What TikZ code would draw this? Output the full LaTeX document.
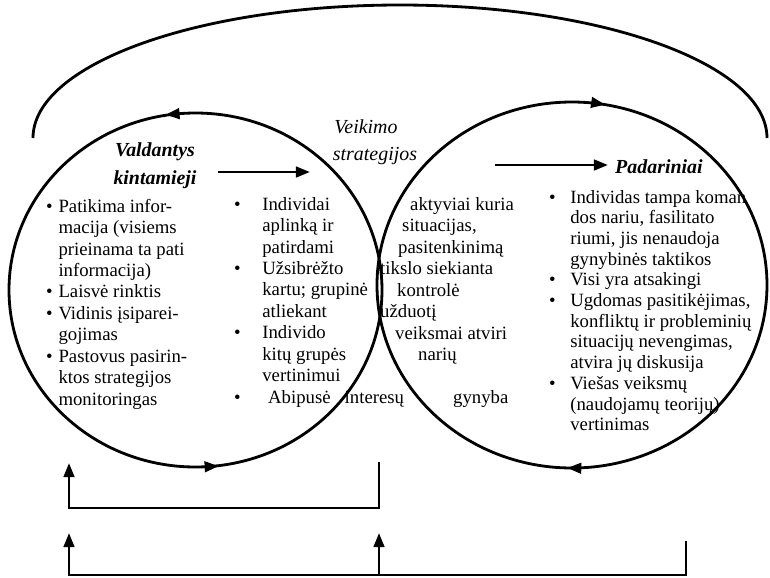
\documentclass[tikz,border=0pt]{standalone}
\usepackage{fontspec}
\setmainfont{Liberation Serif}
\usetikzlibrary{arrows.meta,decorations.markings}

\tikzset{
  linija/.style={line width=2.4pt},
  galva/.tip={Triangle[length=12pt,width=9pt]},
  rodykle/.style={line width=2.4pt,-galva},
  antraste/.style={font=\fontsize{17}{20}\selectfont\bfseries\itshape,inner sep=0pt},
  pokrypis/.style={font=\fontsize{17}{20}\selectfont\itshape,inner sep=0pt},
  sarasas/.style={font=\fontsize{16}{18.35}\selectfont,inner sep=0pt,anchor=base west},
  eilute/.style={font=\fontsize{16}{18.35}\selectfont,inner sep=0pt,anchor=base west},
}

\begin{document}
\begin{tikzpicture}[x=0.03cm,y=-0.03cm]
    \useasboundingbox (0,0) rectangle (770,577);
    % didysis lankas virsuje
    \coordinate (lankas) at (33,138);
    \draw[linija] (lankas) arc[start angle=180,end angle=360,x radius=367,y radius=133];
    % du apskritimai
    \draw[linija,postaction=decorate,decoration={markings,
        mark=at position 0.242 with {\arrow{Triangle[reversed,length=12pt,width=9pt]}},
        mark=at position 0.736 with {\arrow{Triangle[reversed,length=12pt,width=9pt]}}}]
        (195.5,290) ellipse [x radius=186.5,y radius=177];
    \draw[linija,postaction=decorate,decoration={markings,
        mark=at position 0.254 with {\arrow{galva}},
        mark=at position 0.778 with {\arrow{galva}}}]
        (572,285) ellipse [x radius=195,y radius=183];
    % antrastes
    \node[antraste] (valdantys) at (155,152) {Valdantys};
    \node[antraste] (kintamieji) at (155,180) {kintamieji};
    \node[pokrypis] (veikimo) at (366,127) {Veikimo};
    \node[pokrypis] (strategijos) at (375,156) {strategijos};
    \node[antraste,anchor=west] (padariniai) at (615,167) {Padariniai};
    % rodykles tarp antrasciu
    \coordinate (r1a) at (218,172);
    \coordinate (r1b) at (310,172);
    \draw[rodykle] (r1a) -- (r1b);
    \coordinate (r2a) at (495,165);
    \coordinate (r2b) at (608,165);
    \draw[rodykle] (r2a) -- (r2b);
    % kairys sarasas
    \node[sarasas] (kairys) at (46,212) {\begin{tabular}[t]{@{}p{10.5pt}@{}l@{}}
      \textbullet & Patikima infor-\\
      & macija (visiems\\
      & prieinama ta pati\\
      & informacija)\\
      \textbullet & Laisvė rinktis\\
      \textbullet & Vidinis įsiparei-\\
      & gojimas\\
      \textbullet & Pastovus pasirin-\\
      & ktos strategijos\\
      & monitoringas
    \end{tabular}};
    % vidurinis sarasas
    \node[sarasas] (vidurys) at (234,210) {\begin{tabular}[t]{@{}p{24pt}@{}l@{}}
      \textbullet & Individai\\
      & aplinką ir\\
      & patirdami\\
      \textbullet & Užsibrėžto\\
      & kartu; grupinė\\
      & atliekant\\
      \textbullet & Individo\\
      & kitų grupės\\
      & vertinimui\\
      \textbullet & \hspace{5pt}Abipusė\hspace{12pt}interesų
    \end{tabular}};
    % vidurinio saraso tesinys
    \node[eilute] (e1) at (410,210) {aktyviai kuria};
    \node[eilute] (e2) at (402,231.5) {situacijas,};
    \node[eilute] (e3) at (398,253) {pasitenkinimą};
    \node[eilute] (e4) at (380,274.5) {tikslo siekianta};
    \node[eilute] (e5) at (397,296) {kontrolė};
    \node[eilute] (e6) at (380,317.5) {užduotį};
    \node[eilute] (e7) at (395,339) {veiksmai atviri};
    \node[eilute] (e8) at (418,360.5) {narių};
    \node[eilute] (e9) at (453,403.5) {gynyba};
    % desinys sarasas
    \node[sarasas,font=\fontsize{16}{17.67}\selectfont] (desinys) at (549,203) {\begin{tabular}[t]{@{}p{18pt}@{}l@{}}
      \textbullet & Individas tampa koman\\
      & dos nariu, fasilitato\\
      & riumi, jis nenaudoja\\
      & gynybinės taktikos\\
      \textbullet & Visi yra atsakingi\\
      \textbullet & Ugdomas pasitikėjimas,\\
      & konfliktų ir probleminių\\
      & situacijų nevengimas,\\
      & atvira jų diskusija\\
      \textbullet & Viešas veiksmų\\
      & (naudojamų teorijų)\\
      & vertinimas
    \end{tabular}};
    % apatines rodykles
    \coordinate (a1t) at (69,463);
    \coordinate (a1) at (69,508);
    \coordinate (a2) at (379,508);
    \coordinate (a2t) at (379,462);
    \draw[linija,galva-] (a1t) -- (a1) -- (a2) -- (a2t);
    \coordinate (b1t) at (69,533);
    \coordinate (b1) at (69,575);
    \coordinate (b2t) at (379,533);
    \coordinate (b2) at (379,575);
    \coordinate (b3) at (686,575);
    \coordinate (b3t) at (686,541);
    \draw[linija,galva-] (b1t) -- (b1) -- (b3) -- (b3t);
    \draw[rodykle] (b2) -- (b2t);
\end{tikzpicture}
\end{document}
